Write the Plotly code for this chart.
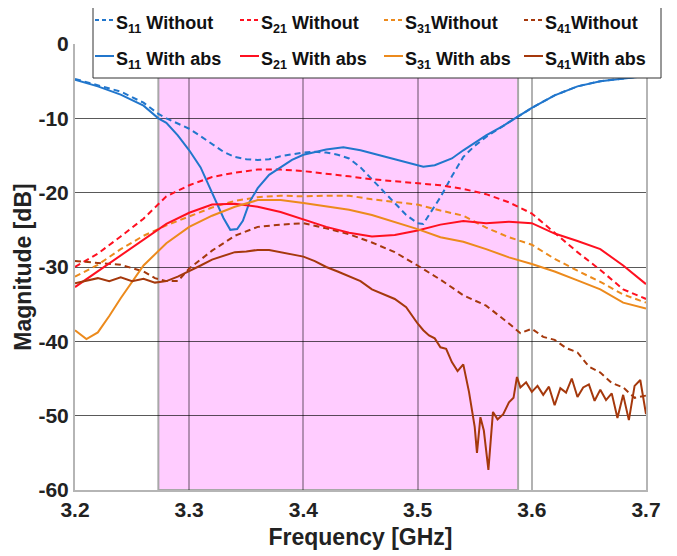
import plotly.graph_objects as go

# ---------------- data ----------------
band = [3.273, 3.588]  # shaded frequency band [GHz]

freq = [3.20, 3.22, 3.24, 3.26, 3.28, 3.30, 3.32, 3.34, 3.36, 3.38, 3.40, 3.42, 3.44,
        3.46, 3.48, 3.50, 3.52, 3.54, 3.56, 3.58, 3.60, 3.62, 3.64, 3.66, 3.68, 3.70]

s21_without = [-30.0, -28.2, -25.9, -23.5, -20.5, -19.0, -17.9, -17.3, -16.9, -16.9, -17.1, -17.4, -17.8,
               -18.2, -18.5, -18.8, -19.0, -19.5, -20.2, -21.3, -22.8, -25.4, -28.0, -30.4, -33.0, -34.3]
s21_with = [-32.7, -30.6, -28.4, -26.3, -24.2, -22.7, -21.6, -21.5, -21.9, -22.6, -23.6, -24.6, -25.4,
            -25.9, -25.7, -25.1, -24.3, -23.8, -24.1, -23.9, -24.1, -25.5, -26.5, -27.6, -29.8, -32.3]
s31_without = [-31.3, -29.7, -27.6, -25.8, -24.4, -23.2, -22.0, -21.1, -20.6, -20.4, -20.5, -20.4, -20.4,
               -20.9, -21.2, -21.6, -22.4, -23.1, -24.7, -26.0, -27.0, -28.9, -30.5, -32.0, -33.7, -34.8]

freq_s31_with = [3.20, 3.21, 3.22, 3.23, 3.24, 3.26, 3.28, 3.30, 3.32, 3.34, 3.36, 3.38, 3.40, 3.42, 3.44,
                 3.46, 3.48, 3.50, 3.52, 3.54, 3.56, 3.58, 3.60, 3.62, 3.64, 3.66, 3.68, 3.70]
s31_with = [-38.5, -39.7, -38.8, -36.6, -34.2, -29.8, -26.8, -24.6, -23.1, -21.9, -21.0, -21.0, -21.4, -21.8, -22.3,
            -23.0, -23.9, -24.9, -26.0, -26.6, -27.6, -28.7, -29.6, -30.6, -31.8, -33.0, -34.8, -35.6]

freq_s41_without = [3.20, 3.22, 3.24, 3.26, 3.27, 3.28, 3.29, 3.30, 3.32, 3.34, 3.36, 3.38, 3.40, 3.42,
                    3.44, 3.46, 3.48, 3.50, 3.52, 3.54, 3.56, 3.58, 3.59, 3.60, 3.61, 3.62, 3.63,
                    3.64, 3.65, 3.66, 3.67, 3.68, 3.69, 3.70]
s41_without = [-29.2, -29.4, -29.7, -30.6, -31.5, -31.9, -31.9, -30.2, -27.8, -25.8, -24.6, -24.3, -24.1, -24.8,
               -25.6, -26.7, -28.0, -29.8, -31.7, -33.8, -35.2, -37.6, -38.9, -38.3, -39.4, -39.8, -40.9,
               -41.5, -43.4, -44.2, -45.6, -46.2, -47.6, -47.3]

freq_s11_with = [3.20, 3.22, 3.24, 3.26, 3.273, 3.28, 3.29, 3.30, 3.31, 3.32, 3.33, 3.336, 3.342, 3.347,
                 3.353, 3.36, 3.37, 3.38, 3.39, 3.40, 3.42, 3.435, 3.45, 3.465, 3.48, 3.49, 3.505, 3.515,
                 3.53, 3.54, 3.56, 3.575, 3.588, 3.60, 3.62, 3.64, 3.66, 3.68, 3.70]
s11_with = [-4.8, -5.7, -6.8, -8.3, -10.0, -10.6, -12.3, -14.3, -16.6, -20.0, -23.4, -25.0, -24.9, -23.8,
            -21.2, -19.4, -17.6, -16.6, -15.6, -14.9, -14.2, -13.9, -14.3, -14.9, -15.5, -16.0, -16.5, -16.3,
            -15.4, -14.3, -12.3, -11.0, -9.8, -8.6, -6.9, -5.7, -5.0, -4.6, -4.3]

freq_s11_without = [3.20, 3.22, 3.24, 3.26, 3.273, 3.28, 3.29, 3.30, 3.31, 3.32, 3.33, 3.34, 3.35, 3.36,
                    3.37, 3.38, 3.39, 3.40, 3.41, 3.42, 3.43, 3.44, 3.45, 3.46, 3.47, 3.48, 3.49, 3.50,
                    3.505, 3.51, 3.52, 3.53, 3.54, 3.55, 3.56, 3.57, 3.588, 3.60, 3.62, 3.64, 3.66, 3.68, 3.70]
s11_without = [-4.7, -5.5, -6.4, -7.9, -9.4, -10.0, -10.7, -11.4, -12.4, -13.5, -14.5, -15.2, -15.5, -15.6,
               -15.5, -15.1, -14.8, -14.6, -14.5, -14.6, -14.9, -15.4, -16.6, -18.2, -19.9, -21.5, -23.0, -24.1,
               -24.2, -23.0, -20.6, -17.8, -15.2, -13.7, -12.5, -11.5, -9.8, -8.6, -6.9, -5.7, -5.0, -4.6, -4.3]

freq_s41_with = [3.20, 3.21, 3.22, 3.23, 3.24, 3.25, 3.26, 3.27, 3.28, 3.29, 3.30, 3.31, 3.32, 3.33, 3.34,
                 3.35, 3.36, 3.37, 3.38, 3.39, 3.40, 3.41, 3.42, 3.43, 3.44, 3.45, 3.46, 3.47, 3.48, 3.49,
                 3.50, 3.505, 3.51, 3.515, 3.52, 3.525, 3.53, 3.535, 3.54, 3.545, 3.55, 3.552, 3.555, 3.558,
                 3.562, 3.566, 3.57, 3.575, 3.58, 3.584, 3.587, 3.59, 3.595, 3.60, 3.605, 3.61, 3.615, 3.62,
                 3.625, 3.63, 3.635, 3.64, 3.645, 3.65, 3.655, 3.66, 3.665, 3.67, 3.675, 3.68, 3.685, 3.69,
                 3.695, 3.70]
s41_with = [-32.2, -31.8, -31.5, -31.9, -31.4, -31.9, -31.6, -32.1, -31.9, -31.3, -30.6, -29.8, -29.0, -28.5, -28.0,
            -27.9, -27.7, -27.7, -28.0, -28.2, -28.6, -29.2, -30.0, -30.6, -31.2, -31.9, -33.0, -33.6, -34.3, -35.4,
            -37.6, -38.5, -39.2, -39.6, -40.8, -41.0, -42.8, -44.0, -43.1, -46.8, -51.5, -55.0, -50.2, -52.0,
            -57.3, -49.5, -50.5, -49.8, -48.2, -47.6, -44.8, -46.2, -45.5, -46.8, -46.0, -47.2, -46.1, -48.6,
            -46.3, -46.9, -45.0, -47.5, -46.2, -45.8, -48.0, -46.5, -47.9, -47.0, -50.3, -47.2, -50.6, -46.0,
            -45.2, -49.8]

x_ticks = [3.2, 3.3, 3.4, 3.5, 3.6, 3.7]
y_ticks = [0, -10, -20, -30, -40, -50, -60]

legend_labels = ["S<sub>11</sub> Without", "S<sub>21</sub> Without", "S<sub>31</sub>Without", "S<sub>41</sub>Without",
                 "S<sub>11</sub> With abs", "S<sub>21</sub> With abs", "S<sub>31</sub> With abs", "S<sub>41</sub>With abs"]

# ---------------- styling ----------------
BLUE = "#2176cc"
RED = "#ff1020"
ORANGE = "#ec8a1c"
BROWN = "#a5380c"
FONT = "Liberation Sans, Arial, sans-serif"

# page offset of the plotly div (default body margin) and figure size
OFF = 8
W, H = 677 - OFF, 556 - OFF
# plot area in page pixels: x 75..646, y 44..490
PL, PR, PT, PB = 75, 646, 44, 490
def px_x(p):
    return (p - PL) / (PR - PL)
def px_y(p):
    return (PB - p) / (PB - PT)

series = [
    (freq_s11_without, s11_without, BLUE, "dash"),
    (freq, s21_without, RED, "dash"),
    (freq, s31_without, ORANGE, "dash"),
    (freq_s41_without, s41_without, BROWN, "dash"),
    (freq_s11_with, s11_with, BLUE, "solid"),
    (freq, s21_with, RED, "solid"),
    (freq_s31_with, s31_with, ORANGE, "solid"),
    (freq_s41_with, s41_with, BROWN, "solid"),
]

fig = go.Figure()
for (xs, ys, col, dash), name in zip(series, legend_labels):
    fig.add_trace(go.Scatter(
        x=xs, y=ys, name=name, mode="lines", showlegend=False,
        line=dict(color=col, width=2, dash="6px,4px" if dash == "dash" else "solid"),
    ))

# shaded band
fig.add_shape(type="rect", xref="x", yref="y", x0=band[0], x1=band[1], y0=-60, y1=0,
              fillcolor="#ffccff", line=dict(color="#a8a8a8", width=2), layer="below")

# legend box (drawn manually, 4 columns x 2 rows)
fig.add_shape(type="rect", xref="paper", yref="paper",
              x0=px_x(93), x1=px_x(661), y0=px_y(78), y1=px_y(7),
              fillcolor="white", line=dict(color="#333", width=1), layer="above")
col_x = [95, 240, 384, 524]
row_y = [20, 56]
for i, (s, name) in enumerate(zip(series, legend_labels)):
    r, c = divmod(i, 4)
    x0 = col_x[c]
    fig.add_shape(type="line", xref="paper", yref="paper",
                  x0=px_x(x0), x1=px_x(x0 + 19), y0=px_y(row_y[r]), y1=px_y(row_y[r]),
                  line=dict(color=s[2], width=2, dash="4px,3px" if s[3] == "dash" else "solid"),
                  layer="above")
    fig.add_annotation(xref="paper", yref="paper", x=px_x(x0 + 19), y=px_y(row_y[r] - 9),
                       xanchor="left", yanchor="top", showarrow=False, text=name,
                       font=dict(family=FONT, size=18, color="#111", weight="bold"))

fig.update_layout(
    width=W, height=H,
    margin=dict(l=PL - OFF, r=W - (PR - OFF), t=PT - OFF, b=H - (PB - OFF), autoexpand=False),
    paper_bgcolor="white", plot_bgcolor="white",
    font=dict(family=FONT, size=21, color="#222", weight="bold"),
    showlegend=False,
    xaxis=dict(
        range=[3.2, 3.7], tickvals=x_ticks, ticktext=[f"{v:.1f}" for v in x_ticks],
        showgrid=True, gridcolor="rgba(0,0,0,0.30)", gridwidth=1.5, automargin=False,
        showline=True, linecolor="#b5b5b5", linewidth=2, zeroline=False, ticks="",
        title=dict(text="Frequency [GHz]", font=dict(size=23), standoff=9),
    ),
    yaxis=dict(
        range=[-60, 0], tickvals=y_ticks, ticktext=[str(v) for v in y_ticks],
        showgrid=True, gridcolor="rgba(0,0,0,0.65)", gridwidth=1, automargin=False,
        showline=True, mirror=True, linecolor="#b5b5b5", linewidth=2, zeroline=False, ticks="",
        title=dict(text="Magnitude [dB]", font=dict(size=23), standoff=0),
    ),
)

fig.write_html("out.html")
